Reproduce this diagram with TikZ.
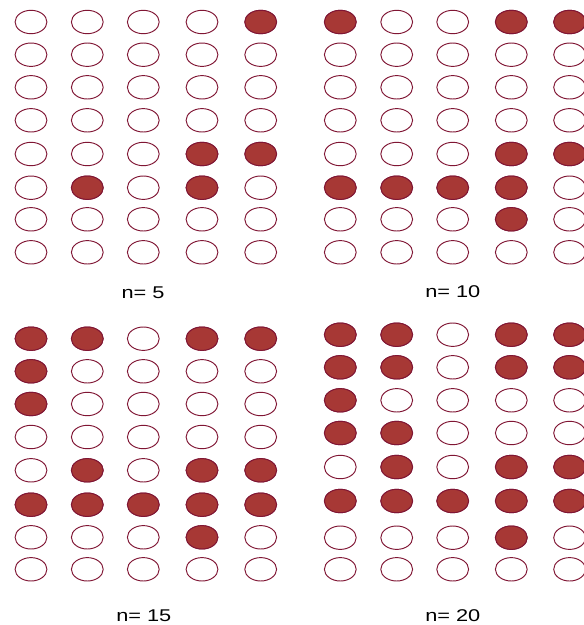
\documentclass[tikz,border=0pt]{standalone}
\usepackage{graphicx}
\usepackage{fontspec}
\setmainfont{Liberation Sans}
\definecolor{dotfill}{RGB}{167,56,53}
\definecolor{dotline}{RGB}{128,22,52}
\newcommand\dotgrid[3]{%
  \foreach \yy [count=\r] in {#3} {
    \foreach \xx [count=\c] in {#2} {
      \coordinate (#1-\r-\c) at (\xx,\yy);
      \draw[dotempty] (#1-\r-\c) ellipse [x radius=15.9pt, y radius=11.7pt];
    }
  }%
}
\begin{document}
\begin{tikzpicture}[x=1pt,y=-1pt,
  dotempty/.style={draw=dotline,line width=0.95pt,fill=white},
  dotfull/.style={draw=dotline,line width=0.95pt,fill=dotfill},
  lab/.style={font=\fontsize{17}{20}\selectfont,inner sep=0pt,anchor=base}]
\useasboundingbox (0,0) rectangle (584,625);
\clip (0,0) rectangle (584,625);
\fill[white] (0,0) rectangle (584,625);
% grids
\dotgrid{a}{31,87.3,143.3,202,260.7}{22,54.7,87.3,120.3,154,187.7,219.3,252.3}
\dotgrid{b}{340.3,396.7,452.7,511.3,569.6}{22,54.7,87.3,120.3,154,187.7,219.3,252.3}
\dotgrid{c}{31,87.3,143.3,202,260.7}{338.7,371.3,404,437,470.3,504.7,537.3,569.3}
\dotgrid{d}{340.3,396.7,452.7,511.3,569.6}{334.7,367.3,400.3,433,467,501,537.7,569.3}
% filled dots: row/column
\foreach \r/\c in {1/5,5/4,5/5,6/2,6/4}
  \draw[dotfull] (a-\r-\c) ellipse [x radius=15.9pt, y radius=11.7pt];
\foreach \r/\c in {1/1,1/4,1/5,5/4,5/5,6/1,6/2,6/3,6/4,7/4}
  \draw[dotfull] (b-\r-\c) ellipse [x radius=15.9pt, y radius=11.7pt];
\foreach \r/\c in {1/1,1/2,1/4,1/5,2/1,3/1,5/2,5/4,5/5,6/1,6/2,6/3,6/4,6/5,7/4}
  \draw[dotfull] (c-\r-\c) ellipse [x radius=15.9pt, y radius=11.7pt];
\foreach \r/\c in {1/1,1/2,1/4,1/5,2/1,2/2,2/4,2/5,3/1,4/1,4/2,5/2,5/4,5/5,6/1,6/2,6/3,6/4,6/5,7/4}
  \draw[dotfull] (d-\r-\c) ellipse [x radius=15.9pt, y radius=11.7pt];
% labels
\node[lab] (la) at (143,298.3) {\scalebox{1.28}[1]{n= 5}};
\node[lab] (lb) at (452.8,297.5) {\scalebox{1.28}[1]{n= 10}};
\node[lab] (lc) at (143.8,621.5) {\scalebox{1.28}[1]{n= 15}};
\node[lab] (ld) at (452.8,621.5) {\scalebox{1.28}[1]{n= 20}};
\end{tikzpicture}
\end{document}
